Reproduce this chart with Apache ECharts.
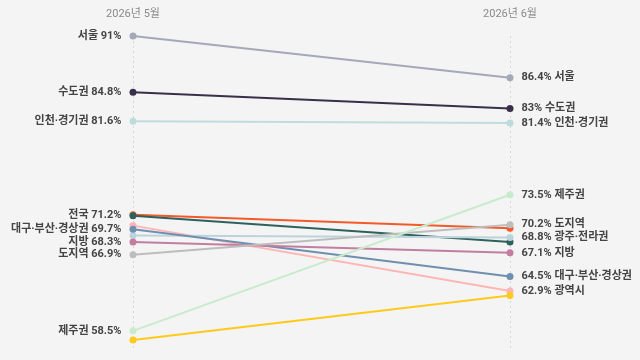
<!DOCTYPE html>
<html>
<head>
<meta charset="utf-8">
<script src="https://cdn.jsdelivr.net/npm/echarts@6/dist/echarts.min.js"></script>
<style>
  html, body { margin: 0; padding: 0; background: #f4f4f4; }
  #chart { width: 640px; height: 360px; }
</style>
</head>
<body>
<div id="chart"></div>
<script>
// 데이터
const months = ["2026년 5월", "2026년 6월"];
const regions = ["대전·세종·충청권", "전국", "광역시", "서울", "수도권", "인천·경기권",
  "광주·전라권", "대구·부산·경상권", "지방", "도지역", "제주권", "강원권"];
const mayValues = [71.3, 71.2, 70.1, 91, 84.8, 81.6, 69.0, 69.7, 68.3, 66.9, 58.5, 57.5];
const juneValues = [69.8, 68.3, 62.9, 86.4, 83, 81.4, 68.8, 64.5, 67.1, 70.2, 73.5, 62.4];

// 스타일
const palette = ["#f25a29", "#2d615e", "#ffb5b5", "#a3a9b9", "#3a2f48", "#bfdcdc",
  "#bcd3dc", "#6e8faf", "#c27ea0", "#bdbdbd", "#c8ebcd", "#ffca1c"];
const hideLeft = ["대전·세종·충청권", "광역시", "광주·전라권", "강원권"];
const hideRight = ["대전·세종·충청권", "전국", "강원권"];

const labelStyle = {
  color: "#444444",
  fontWeight: "bold",
  fontSize: 11,
  fontFamily: "Roboto, 'Noto Sans CJK KR'",
};

let chart = echarts.init(document.getElementById("chart"));

let series = regions.map((name, i) => {
  return {
    name: name,
    type: "line",
    color: palette[i],
    symbol: "circle",
    symbolSize: 7,
    lineStyle: { width: 2 },
    emphasis: { disabled: true },
    data: [
      {
        value: mayValues[i],
        label: {
          show: hideLeft.indexOf(name) < 0,
          position: "left",
          distance: 8,
          formatter: name + " " + mayValues[i] + "%",
          ...labelStyle,
        },
      },
      {
        value: juneValues[i],
        label: {
          show: hideRight.indexOf(name) < 0,
          position: "right",
          distance: 8,
          formatter: juneValues[i] + "% " + name,
          ...labelStyle,
        },
      },
    ],
  };
});

chart.setOption({
  backgroundColor: "#f4f4f4",
  animation: false,
  grid: { left: 133, right: 130, top: 36, bottom: 11 },
  xAxis: {
    type: "category",
    data: months,
    position: "top",
    boundaryGap: false,
    axisLine: { show: false },
    axisTick: { show: false },
    axisLabel: {
      color: "#8a8a8a",
      fontSize: 11,
      fontFamily: "Roboto, 'Noto Sans CJK KR'",
      margin: 16,
    },
    splitLine: {
      show: true,
      lineStyle: { color: "#d6d6d6", type: [2, 3], width: 1 },
    },
  },
  yAxis: {
    type: "value",
    min: 56.5,
    max: 91,
    show: false,
  },
  series: series,
});
</script>
</body>
</html>
